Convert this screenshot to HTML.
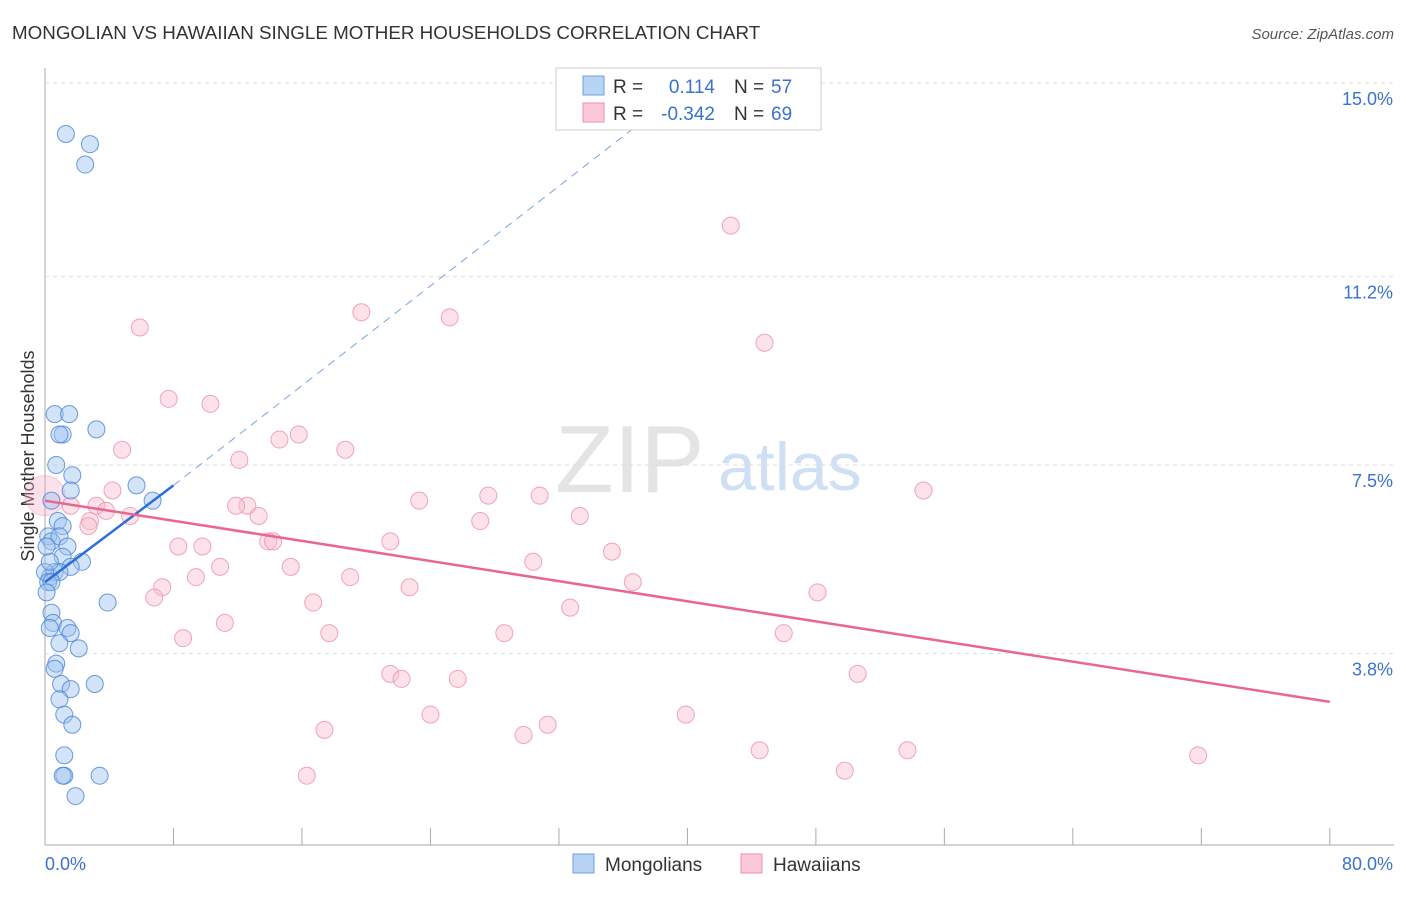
<!DOCTYPE html>
<html><head><meta charset="utf-8"><style>
body{margin:0;background:#fff;font-family:"Liberation Sans",sans-serif}
svg text{font-family:"Liberation Sans",sans-serif}
</style></head><body>
<svg id="c" width="1406" height="892">
<text x="12" y="39" font-size="18.8" fill="#333">MONGOLIAN VS HAWAIIAN SINGLE MOTHER HOUSEHOLDS CORRELATION CHART</text>
<text x="1394" y="39" font-size="15" fill="#555" text-anchor="end" font-style="italic">Source: ZipAtlas.com</text>
<text x="0" y="0" transform="translate(34,456) rotate(-90)" font-size="18" fill="#333" text-anchor="middle">Single Mother Households</text>
<text x="555" y="492" font-size="96" fill="#e4e4e4" font-family="Liberation Serif">ZIP</text>
<text x="718" y="490" font-size="68" fill="#cfe0f4">atlas</text>
<g id="grid"></g><g id="pts"></g><g id="trend"></g>
<g>
<rect x="556" y="68" width="265" height="62" fill="#fff" stroke="#ccc"/>
<rect x="583" y="76" width="21" height="19" fill="#b8d4f5" stroke="#6a9fe0"/>
<rect x="583" y="103" width="21" height="19" fill="#fbc8d7" stroke="#ec8fab"/>
<text x="613" y="93" font-size="19" fill="#333">R =</text><text x="715" y="93" font-size="19" fill="#3a72d0" text-anchor="end">0.114</text>
<text x="734" y="93" font-size="19" fill="#333">N =</text><text x="771" y="93" font-size="19" fill="#3a72d0">57</text>
<text x="613" y="120" font-size="19" fill="#333">R =</text><text x="715" y="120" font-size="19" fill="#3a72d0" text-anchor="end">-0.342</text>
<text x="734" y="120" font-size="19" fill="#333">N =</text><text x="771" y="120" font-size="19" fill="#3a72d0">69</text>
</g>
<g>
<rect x="573" y="854" width="21" height="19" fill="#b8d4f5" stroke="#6a9fe0"/>
<text x="605" y="871" font-size="19" fill="#333">Mongolians</text>
<rect x="741" y="854" width="21" height="19" fill="#fbc8d7" stroke="#ec8fab"/>
<text x="773" y="871" font-size="19" fill="#333">Hawaiians</text>
</g>
<text x="45" y="870" font-size="18" fill="#3a72d0">0.0%</text>
<text x="1393" y="870" font-size="18" fill="#3a72d0" text-anchor="end">80.0%</text>
</svg>
<script>
const yTicks=[15.0,11.2,7.5,3.8];
const yTickLabels=["15.0%","11.2%","7.5%","3.8%"];
const xTicks=[0,8,16,24,32,40,48,56,64,72,80];
const mongX=[1.3,2.8,2.5,0.6,1.5,1.1,0.9,3.2,0.7,1.7,1.6,5.7,6.7,0.4,0.8,1.1,0.2,0.4,0.9,1.4,1.1,2.3,1.6,0.3,0.6,0.9,0.0,0.2,0.4,3.9,0.4,0.5,0.3,1.4,1.6,2.1,0.9,0.7,0.6,1.0,1.6,0.9,3.1,1.2,1.7,1.2,1.2,1.1,3.4,1.9,0.3,0.1,0.1];
const mongY=[14.0,13.8,13.4,8.5,8.5,8.1,8.1,8.2,7.5,7.3,7.0,7.1,6.8,6.8,6.4,6.3,6.1,6.0,6.1,5.9,5.7,5.6,5.5,5.3,5.4,5.4,5.4,5.2,5.2,4.8,4.6,4.4,4.3,4.3,4.2,3.9,4.0,3.6,3.5,3.2,3.1,2.9,3.2,2.6,2.4,1.8,1.4,1.4,1.4,1.0,5.6,5.9,5.0];
const hawX=[42.7,5.9,19.7,25.2,44.8,7.7,10.3,4.8,14.6,15.8,18.7,12.1,4.2,54.7,27.6,30.8,23.3,12.6,11.9,3.2,3.8,1.6,13.3,5.3,2.8,33.3,27.1,2.7,13.9,14.2,21.5,8.3,9.8,35.3,30.4,15.3,10.9,9.4,19.0,7.3,6.8,22.7,36.6,16.7,32.7,48.1,11.2,8.6,17.7,28.6,46.0,21.5,22.2,25.7,50.6,24.0,39.9,17.4,31.3,29.8,44.5,53.7,16.3,49.8,71.8];
const hawY=[12.2,10.2,10.5,10.4,9.9,8.8,8.7,7.8,8.0,8.1,7.8,7.6,7.0,7.0,6.9,6.9,6.8,6.7,6.7,6.7,6.6,6.7,6.5,6.5,6.4,6.5,6.4,6.3,6.0,6.0,6.0,5.9,5.9,5.8,5.6,5.5,5.5,5.3,5.3,5.1,4.9,5.1,5.2,4.8,4.7,5.0,4.4,4.1,4.2,4.2,4.2,3.4,3.3,3.3,3.4,2.6,2.6,2.3,2.4,2.2,1.9,1.9,1.4,1.5,1.8];
const ns="http://www.w3.org/2000/svg";
const X=v=>45+v*16.06, Y=v=>847-v*50.93;
function mk(t,a,p){const e=document.createElementNS(ns,t);for(const k in a)e.setAttribute(k,a[k]);p.appendChild(e);return e;}
const g=document.getElementById('grid');
const ax=mk('line',{x1:45,y1:68,x2:45,y2:845,stroke:'#aaa'},g);


const xl=mk('line',{x1:45,y1:845,x2:1394,y2:845,stroke:'#aaa'},g);


yTicks.forEach((v,i)=>{
 const l=mk('line',{x1:45,y1:Y(v),x2:1394,y2:Y(v),stroke:'#ddd','stroke-dasharray':'4,4'},g);
 
 
 const t=mk('text',{x:1393,y:Y(v)+22,'font-size':18,fill:'#3a72d0','text-anchor':'end'},g);
 t.textContent=yTickLabels[i];
 
 
});
xTicks.slice(1).forEach(v=>{
 const l=mk('line',{x1:X(v),y1:828,x2:X(v),y2:845,stroke:'#aaa'},g);
 
 
});
const p=document.getElementById('pts');
const big=mk('circle',{cx:X(0),cy:Y(6.9),r:20,fill:'rgba(246,170,195,0.35)',stroke:'rgba(236,143,171,0.4)'},p);


hawX.forEach((x,i)=>{
 const c=mk('circle',{cx:X(x),cy:Y(hawY[i]),r:8.5,fill:'rgba(250,190,208,0.45)',stroke:'rgba(236,143,171,0.8)','stroke-width':1},p);
 
 
});
mongX.forEach((x,i)=>{
 const c=mk('circle',{cx:X(x),cy:Y(mongY[i]),r:8.5,fill:'rgba(160,196,240,0.45)',stroke:'rgba(70,130,215,0.8)','stroke-width':1},p);
 
 
});
const tr=document.getElementById('trend');
const bl=mk('line',{x1:X(0),y1:Y(5.2),x2:X(8),y2:Y(7.1),stroke:'#2d6fd6','stroke-width':2.5},tr);


const bd=mk('line',{x1:X(8),y1:Y(7.1),x2:X(37),y2:Y(14.2),stroke:'#7aa3e0','stroke-width':1,'stroke-dasharray':'8,6'},tr);


const pl=mk('line',{x1:X(0),y1:Y(6.8),x2:X(80),y2:Y(2.85),stroke:'#e8668f','stroke-width':2.5},tr);


</script>
</body></html>
